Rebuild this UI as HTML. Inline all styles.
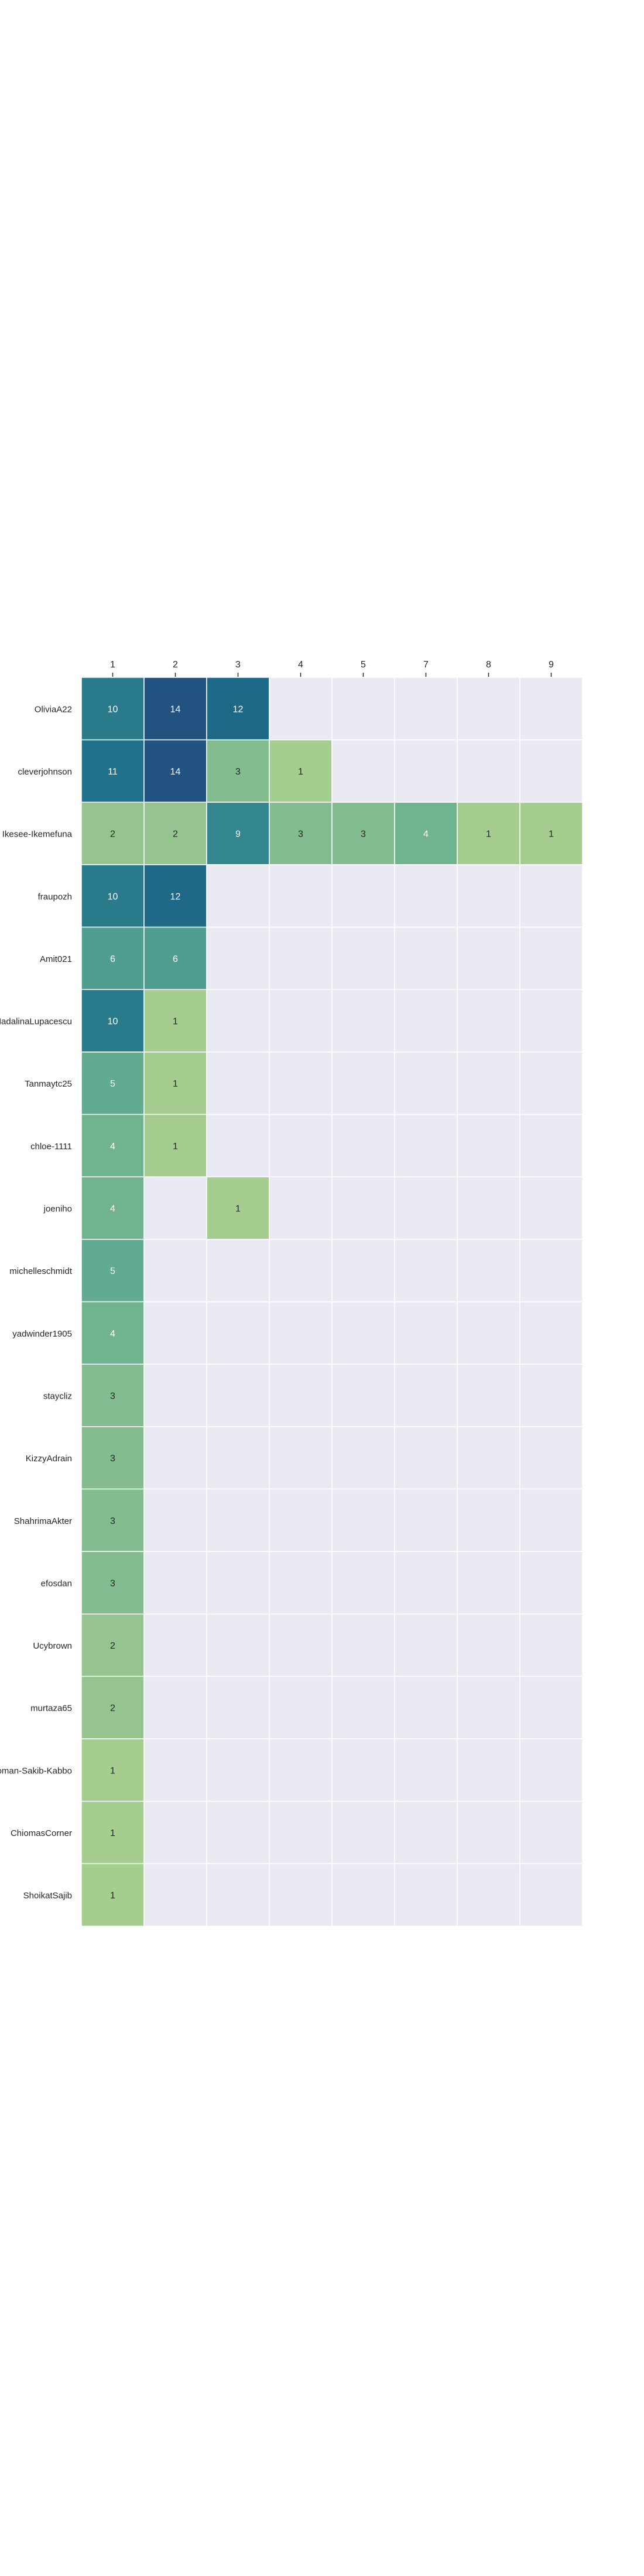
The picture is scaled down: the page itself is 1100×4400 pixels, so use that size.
<!DOCTYPE html>
<html><head><meta charset="utf-8"><style>
html,body{margin:0;padding:0;background:#fff;}
svg{display:block;font-family:"Liberation Sans",Arial,sans-serif;}
</style></head><body>
<svg id="chart" width="1100" height="4400" viewBox="0 0 1100 4400" xmlns="http://www.w3.org/2000/svg"></svg>
<script>
const columns = ["1","2","3","4","5","7","8","9"];
const rows = ["OliviaA22","cleverjohnson","Ikesee-Ikemefuna","fraupozh","Amit021","MadalinaLupacescu","Tanmaytc25","chloe-1111","joeniho","michelleschmidt","yadwinder1905","staycliz","KizzyAdrain","ShahrimaAkter","efosdan","Ucybrown","murtaza65","Abdullah-Al-Noman-Sakib-Kabbo","ChiomasCorner","ShoikatSajib"];
const values = [
[10,14,12,null,null,null,null,null],
[11,14,3,1,null,null,null,null],
[2,2,9,3,3,4,1,1],
[10,12,null,null,null,null,null,null],
[6,6,null,null,null,null,null,null],
[10,1,null,null,null,null,null,null],
[5,1,null,null,null,null,null,null],
[4,1,null,null,null,null,null,null],
[4,null,1,null,null,null,null,null],
[5,null,null,null,null,null,null,null],
[4,null,null,null,null,null,null,null],
[3,null,null,null,null,null,null,null],
[3,null,null,null,null,null,null,null],
[3,null,null,null,null,null,null,null],
[3,null,null,null,null,null,null,null],
[2,null,null,null,null,null,null,null],
[2,null,null,null,null,null,null,null],
[1,null,null,null,null,null,null,null],
[1,null,null,null,null,null,null,null],
[1,null,null,null,null,null,null,null]
];
const svgEl = document.getElementById('chart');
const NS = 'http://www.w3.org/2000/svg';
const gridLeft = 139, gridTop = 1157, cw = 107, ch = 106.65;
const xPos = i => gridLeft + i * cw;
const yPos = j => gridTop + j * ch;
const stops = [[1,[165,205,144]],[2,[149,196,145]],[3,[130,188,143]],[4,[111,179,143]],[5,[98,170,144]],[6,[80,158,143]],[9,[51,134,142]],[10,[41,122,139]],[11,[32,113,137]],[12,[30,105,136]],[14,[34,82,128]]];
function color(v){
  for(let k=0;k<stops.length-1;k++){
    const a=stops[k],b=stops[k+1];
    if(v>=a[0]&&v<=b[0]){const t=(v-a[0])/(b[0]-a[0]);
      const c=a[1].map((x,i)=>Math.round(x+(b[1][i]-x)*t));return 'rgb('+c.join(',')+')';}
  }
  return v<1?'rgb(165,205,144)':'rgb(34,82,128)';
}
function mk(tag, attrs){const e=document.createElementNS(NS,tag);for(const k in attrs)e.setAttribute(k,attrs[k]);svgEl.appendChild(e);return e;}
rows.forEach((r,j)=>{
  columns.forEach((c,i)=>{
    const v = values[j][i];
    const rect = mk('rect',{x:xPos(i),y:yPos(j),width:cw,height:ch,fill:v==null?'#eaeaf2':color(v),stroke:'#ffffff','stroke-width':1.5});
    
    
    if(v!=null){
      const t = mk('text',{x:xPos(i)+cw/2,y:yPos(j)+ch/2+6,'text-anchor':'middle','font-size':16,fill:v>=4?'#ffffff':'#262626'});
      t.textContent = v;
      
      
    }
  });
  const lab = mk('text',{x:123,y:yPos(j)+ch/2+6,'text-anchor':'end','font-size':15,fill:'#262626'});
  lab.textContent = r;
  
  
});
columns.forEach((c,i)=>{
  const tk = mk('line',{x1:xPos(i)+cw/2,x2:xPos(i)+cw/2,y1:1149,y2:1156,stroke:'#262626','stroke-width':1.5});
  
  
  const t = mk('text',{x:xPos(i)+cw/2,y:1140,'text-anchor':'middle','font-size':16,fill:'#262626'});
  t.textContent = c;
  
  
});
</script>
</body></html>
